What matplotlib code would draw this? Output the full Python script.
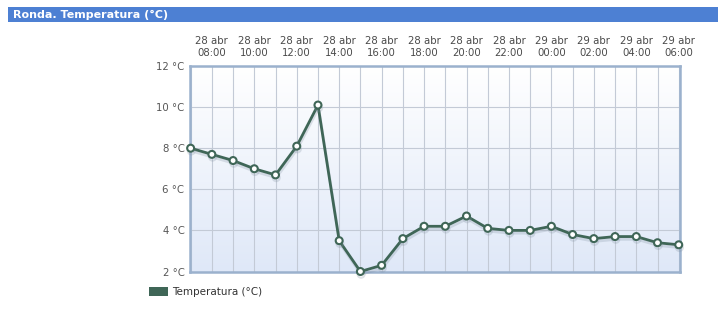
import numpy as np
import matplotlib
matplotlib.use("Agg")
import matplotlib.pyplot as plt
from matplotlib.patches import Rectangle, Patch
from matplotlib.colors import LinearSegmentedColormap
import matplotlib.patheffects as pe

title = "Ronda. Temperatura (°C)"
series_name = "Temperatura (°C)"
hours = ["28 abr\n07:00", "28 abr\n08:00", "28 abr\n09:00", "28 abr\n10:00", "28 abr\n11:00",
         "28 abr\n12:00", "28 abr\n13:00", "28 abr\n14:00", "28 abr\n15:00", "28 abr\n16:00",
         "28 abr\n17:00", "28 abr\n18:00", "28 abr\n19:00", "28 abr\n20:00", "28 abr\n21:00",
         "28 abr\n22:00", "28 abr\n23:00", "29 abr\n00:00", "29 abr\n01:00", "29 abr\n02:00",
         "29 abr\n03:00", "29 abr\n04:00", "29 abr\n05:00", "29 abr\n06:00"]
temps = [8.0, 7.7, 7.4, 7.0, 6.7, 8.1, 10.1, 3.5, 2.0, 2.3, 3.6, 4.2, 4.2, 4.7,
         4.1, 4.0, 4.0, 4.2, 3.8, 3.6, 3.7, 3.7, 3.4, 3.3]
yticks = [2, 4, 6, 8, 10, 12]

W, H = 718, 327
fig = plt.figure(figsize=(W / 100, H / 100), dpi=100)

# title bar
fig.patches.append(Rectangle((8 / W, 1 - 22 / H), (W - 8) / W, 15 / H,
                             transform=fig.transFigure, facecolor="#4d80d3",
                             edgecolor="none", zorder=0))
fig.text(13 / W, 1 - 15 / H, title, color="white", fontsize=8, fontweight="bold",
         va="center", ha="left", family="DejaVu Sans")

left, right, top, bottom = 190, 680, 66, 271.5
ax = fig.add_axes([left / W, 1 - bottom / H, (right - left) / W, (bottom - top) / H])

x = np.arange(len(temps))
ax.set_xlim(-0.03, len(temps) - 1 + 0.06)
ax.set_ylim(2, 12)

# gradient background: white at top, light blue at bottom
grad = np.linspace(1, 0, 256).reshape(-1, 1)
cmap = LinearSegmentedColormap.from_list("bg", ["#ffffff", "#dfe8f8"])
xl = ax.get_xlim()
ax.imshow(grad, aspect="auto", cmap=cmap, extent=[xl[0], xl[1], 2, 12],
          origin="lower", zorder=0)
ax.set_xlim(xl)
ax.set_ylim(2, 12)

# grid
ax.set_xticks(x)
ax.set_yticks(yticks)
ax.grid(True, color="#c3cad6", linewidth=0.8, zorder=1)
ax.set_axisbelow(True)

ax.plot(x, temps, color="#3f6657", linewidth=2.0, marker="o", markersize=5,
        markerfacecolor="white", markeredgecolor="#3f6657", markeredgewidth=1.5,
        zorder=3, clip_on=False,
        path_effects=[pe.SimpleLineShadow(offset=(0.5, -2), shadow_color="#8090a0", alpha=0.25),
                      pe.Normal()])

# top tick labels every 2 hours
ax.xaxis.tick_top()
labels = [h if i % 2 == 1 else "" for i, h in enumerate(hours)]
ax.set_xticklabels(labels, fontsize=7.3, color="#4a4a4a", linespacing=1.15)
ax.tick_params(axis="x", length=0, pad=6)
ax.set_yticklabels([f"{v} °C" for v in yticks], fontsize=7.3, color="#555555")
ax.tick_params(axis="y", length=0, pad=4)

for s in ax.spines.values():
    s.set_color("#9bb1cd")
    s.set_linewidth(1.8)

leg = fig.legend(handles=[Patch(facecolor="#3f6657", edgecolor="none", label=series_name)],
                 loc="center left", bbox_to_anchor=(140 / W, 1 - 292 / H), frameon=False,
                 fontsize=7.5, handlelength=1.8, handleheight=0.9, handletextpad=0.4)
for t in leg.get_texts():
    t.set_color("#333333")

fig.savefig("out.png", dpi=100, facecolor="white")
